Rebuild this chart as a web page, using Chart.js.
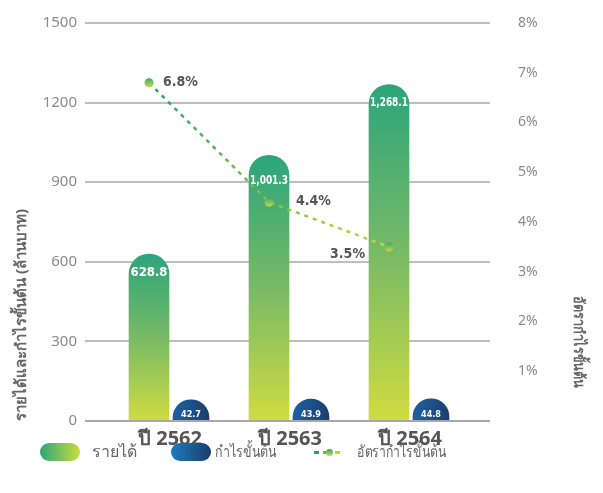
<!DOCTYPE html>
<html lang="th">
<head>
<meta charset="utf-8">
<title>รายได้และกำไรขั้นต้น</title>
<script src="https://cdn.jsdelivr.net/npm/chart.js@4.4.1/dist/chart.umd.min.js"></script>
<style>
  body { margin: 0; background: #fff; }
  #wrap { position: relative; width: 603px; height: 493px; font-family: 'Noto Sans', sans-serif; }
  #legend { position: absolute; left: 0; top: 442px; width: 603px; height: 20px; }
  .sw { position: absolute; top: 1px; width: 40px; height: 18px; border-radius: 9px; }
  .lbl { position: absolute; top: -1px; font-size: 16px; color: #666; line-height: 20px; white-space: nowrap; transform-origin: left center; }
  .dash { position: absolute; top: 9px; height: 3px; width: 5px; }
  .dot { position: absolute; top: 7px; width: 7px; height: 7px; border-radius: 50%; }
</style>
</head>
<body>
<div id="wrap">
  <canvas id="chart"></canvas>
  <div id="legend">
    <div class="sw" style="left:40px;background:linear-gradient(90deg,#2ea57a,#c9dc3e);"></div>
    <div class="lbl" style="left:92px;">รายได้</div>
    <div class="sw" style="left:171px;background:linear-gradient(90deg,#1b7cc0,#1b3c6c);"></div>
    <div class="lbl" style="left:215px;transform:scaleX(0.78);">กำไรขั้นต้น</div>
    <div class="dash" style="left:314px;background:#2e9e6a;"></div>
    <div class="dash" style="left:323px;background:#6cb64f;"></div>
    <div class="dot" style="left:326px;background:linear-gradient(#2ea57a,#c9dc3e);"></div>
    <div class="dash" style="left:335px;background:#b6d53a;"></div>
    <div class="lbl" style="left:357px;transform:scaleX(0.76);">อัตรากำไรขั้นต้น</div>
  </div>
</div>
<script>
// ข้อมูล
const categories = ['ปี 2562', 'ปี 2563', 'ปี 2564'];
const revenue = [628.8, 1001.3, 1268.1];
const grossProfit = [42.7, 43.9, 44.8];
const marginPct = [6.8, 4.4, 3.5];
const leftTicks = [0, 300, 600, 900, 1200, 1500];
const rightTicks = [0, 1, 2, 3, 4, 5, 6, 7, 8];

const FONT = "'Noto Sans', sans-serif";
const NARROW = "'Liberation Sans Narrow', 'DejaVu Sans Condensed', sans-serif";
// ตำแหน่งป้ายข้อความ (สไตล์)
const revLabelDy = [18, 25, 18];
const pctLabelPos = [{dx: 14, dy: 0, align: 'left'}, {dx: 27, dy: -1, align: 'left'}, {dx: -24, dy: 7, align: 'right'}];

function fmt(v) {
    return v.toLocaleString('en-US', {minimumFractionDigits: 1, maximumFractionDigits: 1});
}
function toPoints(arr) {
    return arr.map((v, i) => ({x: i, y: v}));
}

function revenueFill(c) {
    const chart = c.chart;
    if (!chart.chartArea) return '#6db86a';
    const y = chart.scales.y;
    const top = y.getPixelForValue(revenue[c.dataIndex]);
    const bottom = y.getPixelForValue(0);
    if (!isFinite(top) || !isFinite(bottom)) return '#6db86a';
    const g = chart.ctx.createLinearGradient(0, top, 0, bottom);
    g.addColorStop(0, '#2ca57b');
    g.addColorStop(0.5, '#78ba66');
    g.addColorStop(1, '#cfdc40');
    return g;
}

function profitFill(c) {
    const chart = c.chart;
    if (!chart.chartArea) return '#1d4e88';
    const cx = chart.scales.xp.getPixelForValue(c.dataIndex);
    if (!isFinite(cx)) return '#1d4e88';
    const g = chart.ctx.createLinearGradient(cx - 18, 0, cx + 18, 0);
    g.addColorStop(0, '#1c62a3');
    g.addColorStop(1, '#1c3f70');
    return g;
}

function lineStroke(c) {
    const chart = c.chart;
    const a = chart.chartArea;
    if (!a) return '#5fb35a';
    const g = chart.ctx.createLinearGradient(a.left + 39, 0, a.left + 279, 0);
    g.addColorStop(0, '#2e9f6b');
    g.addColorStop(0.5, '#86c148');
    g.addColorStop(1, '#c4da36');
    return g;
}

function pointFill(c) {
    const chart = c.chart;
    if (!chart.chartArea || c.dataIndex == null) return '#6db86a';
    const py = chart.scales.y1.getPixelForValue(marginPct[c.dataIndex]);
    if (!isFinite(py)) return '#6db86a';
    const g = chart.ctx.createLinearGradient(0, py - 5, 0, py + 5);
    g.addColorStop(0, '#2ea57a');
    g.addColorStop(1, '#d3dd3a');
    return g;
}

// เส้นกริดยาวเกินพื้นที่กราฟ + ป้ายตัวเลข
const gridPlugin = {
    id: 'gridPlugin',
    beforeDatasetsDraw(chart) {
        const {ctx, chartArea, scales} = chart;
        ctx.save();
        ctx.strokeStyle = '#a8a8a8';
        ctx.lineWidth = 1.5;
        scales.y.ticks.forEach(t => {
            if (t.value === 0) return;
            const y = Math.round(scales.y.getPixelForValue(t.value));
            ctx.beginPath();
            ctx.moveTo(chartArea.left - 25, y);
            ctx.lineTo(chartArea.right + 20, y);
            ctx.stroke();
        });
        ctx.restore();
    },
    afterDatasetsDraw(chart) {
        const {ctx, chartArea, scales} = chart;
        ctx.save();
        ctx.strokeStyle = '#a8a8a8';
        ctx.lineWidth = 2;
        const y = Math.round(scales.y.getPixelForValue(0));
        ctx.beginPath();
        ctx.moveTo(chartArea.left - 25, y);
        ctx.lineTo(chartArea.right + 20, y);
        ctx.stroke();

        ctx.textAlign = 'center';
        ctx.textBaseline = 'middle';
        ctx.fillStyle = '#fff';
        ctx.font = 'bold 13px ' + NARROW;
        chart.getDatasetMeta(0).data.forEach((bar, i) => {
            ctx.fillText(fmt(revenue[i]), bar.x, bar.y + revLabelDy[i], 38);
        });
        ctx.font = 'bold 9px ' + NARROW;
        chart.getDatasetMeta(1).data.forEach((bar, i) => {
            ctx.fillText(fmt(grossProfit[i]), bar.x, y - 6, 20);
        });
        ctx.fillStyle = '#555';
        ctx.font = 'bold 14px ' + NARROW;
        chart.getDatasetMeta(2).data.forEach((pt, i) => {
            const p = pctLabelPos[i];
            ctx.textAlign = p.align;
            ctx.fillText(marginPct[i] + '%', pt.x + p.dx, pt.y + p.dy);
        });

        // ชื่อแกนขวา
        ctx.translate(chart.width - 25, 342);
        ctx.rotate(Math.PI / 2);
        ctx.textAlign = 'center';
        ctx.fillStyle = '#666';
        ctx.font = 'bold 15px ' + FONT;
        ctx.scale(0.85, 1);
        ctx.fillText('อัตรากำไรขั้นต้น', 0, 0);
        ctx.restore();
    }
};

const ctx = document.getElementById('chart').getContext('2d');
new Chart(ctx, {
    type: 'bar',
    data: {
        labels: categories,
        datasets: [{
            type: 'bar',
            label: 'รายได้',
            data: toPoints(revenue),
            xAxisID: 'xr',
            yAxisID: 'y',
            backgroundColor: revenueFill,
            borderRadius: {topLeft: 20, topRight: 20, bottomLeft: 0, bottomRight: 0},
            borderSkipped: 'start',
            barThickness: 40,
            grouped: false,
            order: 2
        }, {
            type: 'bar',
            label: 'กำไรขั้นต้น',
            data: toPoints(grossProfit),
            xAxisID: 'xp',
            yAxisID: 'y2',
            backgroundColor: profitFill,
            borderRadius: 18,
            borderSkipped: false,
            base: -100,
            clip: 0,
            barThickness: 36,
            grouped: false,
            order: 2
        }, {
            type: 'line',
            label: 'อัตรากำไรขั้นต้น',
            data: toPoints(marginPct),
            xAxisID: 'xr',
            yAxisID: 'y1',
            borderColor: lineStroke,
            borderWidth: 2.5,
            borderDash: [4, 5],
            pointRadius: 4.5,
            pointBorderWidth: 0,
            pointBackgroundColor: pointFill,
            fill: false,
            order: 0
        }]
    },
    options: {
        responsive: true,
        maintainAspectRatio: false,
        animation: false,
        layout: {padding: {top: 23, left: 0, right: 0, bottom: 0}},
        plugins: {legend: {display: false}, tooltip: {enabled: false}},
        scales: {
            x: {
                type: 'category',
                offset: true,
                grid: {display: false, drawTicks: false},
                border: {display: false},
                ticks: {padding: 6, color: '#555', font: {family: FONT, size: 20, weight: 'bold'}},
                afterFit: s => { s.height = 72; }
            },
            // แกนซ่อนสำหรับตำแหน่งแท่งรายได้/เส้น และแท่งกำไร
            xr: {type: 'linear', display: false, offset: false, min: -0.325, max: 2.675},
            xp: {type: 'linear', display: false, offset: false, min: -0.675, max: 2.325},
            y: {
                position: 'left',
                min: leftTicks[0],
                max: leftTicks[leftTicks.length - 1],
                grid: {display: false, drawTicks: false},
                border: {display: false},
                ticks: {stepSize: leftTicks[1] - leftTicks[0], padding: 33, color: '#8a8a8a',
                        font: {family: FONT, size: 15}, callback: v => String(v)},
                title: {display: true, text: 'รายได้และกำไรขั้นต้น (ล้านบาท)', align: 'start', color: '#666',
                        padding: {top: 13, bottom: 0}, font: {family: FONT, size: 15, weight: 'bold'}},
                afterFit: s => { s.width = 110; s.paddingTop = 0; s.paddingBottom = 0; }
            },
            y2: {position: 'left', display: false, min: 0, max: 800},
            y1: {
                position: 'right',
                min: rightTicks[0],
                max: rightTicks[rightTicks.length - 1],
                grid: {display: false, drawTicks: false},
                border: {display: false},
                ticks: {stepSize: 1, padding: 48, color: '#8a8a8a', font: {family: FONT, size: 14},
                        callback: v => v === 0 ? '' : v + '%'},
                afterFit: s => { s.width = 133; s.paddingTop = 0; s.paddingBottom = 0; }
            }
        }
    },
    plugins: [gridPlugin]
});
</script>
</body>
</html>
